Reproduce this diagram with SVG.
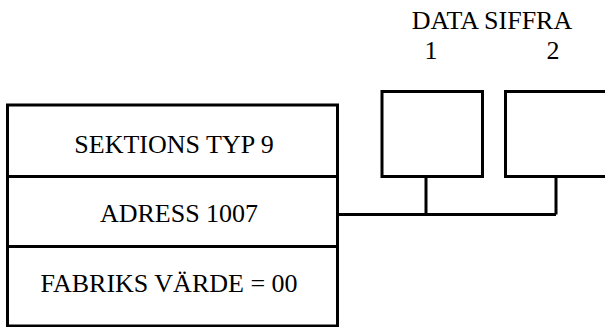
<svg xmlns="http://www.w3.org/2000/svg" width="605" height="327" viewBox="0 0 605 327">
<style>
.ln{fill:none;stroke:#000;stroke-width:3}
.t{font-family:"Liberation Serif","Times New Roman",serif;font-size:26px;fill:#000;text-anchor:middle}
</style>
<rect width="605" height="327" fill="#fff"/>
<g id="sektion">
<rect class="ln" x="7.5" y="105" width="330" height="221"/>
<line class="ln" x1="7.5" y1="176.5" x2="337.5" y2="176.5"/>
<line class="ln" x1="7.5" y1="246.5" x2="337.5" y2="246.5"/>
<text class="t" x="174" y="153">SEKTIONS TYP 9</text>
<text class="t" x="179" y="222">ADRESS 1007</text>
<text class="t" x="169" y="292">FABRIKS VÄRDE = 00</text>
</g>
<g id="titel">
<text class="t" x="492" y="29">DATA SIFFRA</text>
<text class="t" x="431" y="59">1</text>
<text class="t" x="553" y="59">2</text>
</g>
<g id="siffra1">
<rect class="ln" x="382" y="91.5" width="100.5" height="85"/>
</g>
<g id="siffra2">
<path class="ln" d="M607,91.5 H505.5 V176.5 H607"/>
</g>
<g id="connectors">
<path class="ln" d="M337.5,214.5 H556 M426,176.5 V214.5 M556,176.5 V214.5"/>
</g>
</svg>
